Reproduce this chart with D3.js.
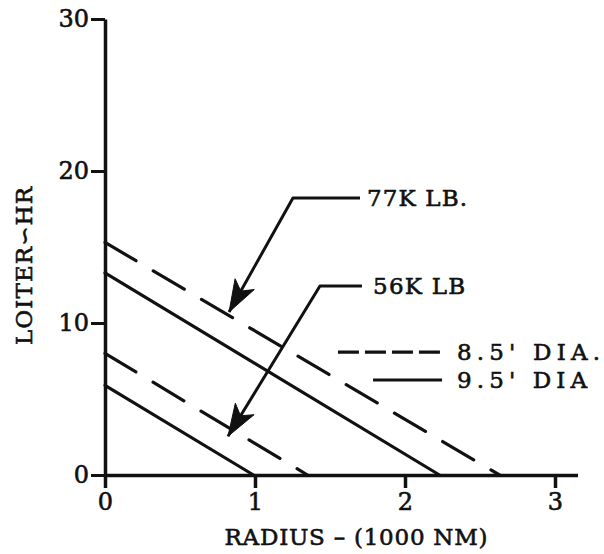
<!DOCTYPE html>
<html>
<head>
<meta charset="utf-8">
<script src="https://cdn.jsdelivr.net/npm/d3@7"></script>
<style>
  html, body { margin: 0; padding: 0; background: #fff; }
  svg { display: block; }
  text { font-family: "DejaVu Serif", "Liberation Serif", serif; fill: #111; stroke: #111; stroke-width: 0.6px; }
</style>
</head>
<body>
<svg id="chart" width="604" height="554"></svg>
<script>
// ---- data ----
const xTicks = [0, 1, 2, 3];
const yTicks = [0, 10, 20, 30];
const xLabel = "RADIUS \u2013 (1000 NM)";
const yLabel = "LOITER\u223DHR";

// series: [radius (1000 NM), loiter (HR)]
const w77_85 = [[0, 15.3], [2.63, 0]];   // 77K LB, 8.5' DIA (dashed)
const w77_95 = [[0, 13.3], [2.23, 0]];   // 77K LB, 9.5' DIA (solid)
const w56_85 = [[0, 8.0], [1.35, 0]];    // 56K LB, 8.5' DIA (dashed)
const w56_95 = [[0, 5.9], [0.99, 0]];    // 56K LB, 9.5' DIA (solid)

// annotations (data coordinates)
const arrow77 = [[1.70, 18.22], [1.253, 18.22], [0.827, 10.72]];
const arrow56 = [[1.713, 12.43], [1.433, 12.43], [0.82, 2.55]];
const label77 = { text: "77K LB.", at: [1.747, 18.2], len: 100 };
const label56 = { text: "56K LB", at: [1.787, 12.43], len: 92 };
const legendItems = [
  { text: "8.5' DIA.", dashed: true,  from: 1.553, to: 2.247, y: 8.09, tx: 2.347, len: 143 },
  { text: "9.5' DIA",  dashed: false, from: 1.787, to: 2.247, y: 6.25, tx: 2.347, len: 130 }
];

// ---- scales ----
const svg = d3.select("#chart");
const x = d3.scaleLinear().domain([0, 3.15]).range([105, 577.5]);
const y = d3.scaleLinear().domain([0, 30]).range([475, 19]);
const ink = "#111";

// ---- axes ----
const xAxis = d3.axisBottom(x).tickValues(xTicks).tickFormat(d3.format("d"))
  .tickSizeInner(13).tickSizeOuter(0).tickPadding(5);
const gx = svg.append("g").attr("transform", `translate(0,${y(0)})`).call(xAxis);
gx.select(".domain").attr("stroke", ink).attr("stroke-width", 3.5);
gx.selectAll(".tick line").attr("stroke", ink).attr("stroke-width", 3.5);
gx.selectAll(".tick text").attr("font-size", 24).attr("font-family", "DejaVu Serif").attr("fill", ink);

const yAxis = d3.axisLeft(y).tickValues(yTicks).tickFormat(d3.format("d"))
  .tickSizeInner(14).tickSizeOuter(0).tickPadding(2);
const gy = svg.append("g").attr("transform", `translate(${x(0)},0)`).call(yAxis);
gy.select(".domain").attr("stroke", ink).attr("stroke-width", 3.5);
gy.selectAll(".tick line").attr("stroke", ink).attr("stroke-width", 3);
gy.selectAll(".tick text").attr("font-size", 24).attr("font-family", "DejaVu Serif").attr("fill", ink);

// axis titles
svg.append("text")
  .attr("x", 356).attr("y", 537)
  .attr("text-anchor", "middle").attr("dominant-baseline", "central")
  .attr("font-size", 23).attr("textLength", 263)
  .text(xLabel);

svg.append("text")
  .attr("transform", `translate(24,${(y(0) + y(30)) / 2 + 19}) rotate(-90)`)
  .attr("text-anchor", "middle").attr("dominant-baseline", "central")
  .attr("font-size", 23).attr("textLength", 158)
  .text(yLabel);

// ---- series lines ----
const line = d3.line().x(d => x(d[0])).y(d => y(d[1]));
const series = [
  { data: w77_85, dashed: true },
  { data: w77_95, dashed: false },
  { data: w56_85, dashed: true },
  { data: w56_95, dashed: false }
];
svg.append("g").selectAll("path").data(series).join("path")
  .attr("d", d => line(d.data))
  .attr("fill", "none").attr("stroke", ink).attr("stroke-width", 3.2)
  .attr("stroke-linecap", "round")
  .attr("stroke-dasharray", d => d.dashed ? "36,20" : null);

// ---- arrows ----
function drawArrow(pts) {
  svg.append("path").attr("d", line(pts))
    .attr("fill", "none").attr("stroke", ink).attr("stroke-width", 3).attr("stroke-linejoin", "round");
  const a = pts[pts.length - 2], b = pts[pts.length - 1];
  const ax = x(a[0]), ay = y(a[1]), bx = x(b[0]), by = y(b[1]);
  const dx = bx - ax, dy = by - ay, L = Math.hypot(dx, dy);
  const ux = dx / L, uy = dy / L, px = -uy, py = ux;
  const len = 32, hw = 11, notch = 8;
  const baseX = bx - ux * len, baseY = by - uy * len;
  const p1 = [baseX + px * hw, baseY + py * hw];
  const p2 = [baseX - px * hw, baseY - py * hw];
  const n = [bx - ux * (len - notch), by - uy * (len - notch)];
  svg.append("path")
    .attr("d", `M${bx},${by}L${p1[0]},${p1[1]}L${n[0]},${n[1]}L${p2[0]},${p2[1]}Z`)
    .attr("fill", ink).attr("stroke", ink).attr("stroke-width", 1);
}
drawArrow(arrow77);
drawArrow(arrow56);

// labels
[label77, label56].forEach(l => {
  svg.append("text").attr("x", x(l.at[0])).attr("y", y(l.at[1]))
    .attr("dominant-baseline", "central").attr("font-size", 23)
    .attr("textLength", l.len).text(l.text);
});

// ---- legend ----
legendItems.forEach(it => {
  svg.append("line")
    .attr("x1", x(it.from)).attr("x2", x(it.to))
    .attr("y1", y(it.y)).attr("y2", y(it.y))
    .attr("stroke", ink).attr("stroke-width", 3.2)
    .attr("stroke-dasharray", it.dashed ? "21,6" : null);
  svg.append("text").attr("x", x(it.tx)).attr("y", y(it.y))
    .attr("dominant-baseline", "central").attr("font-size", 23)
    .attr("textLength", it.len).text(it.text);
});
</script>
</body>
</html>
